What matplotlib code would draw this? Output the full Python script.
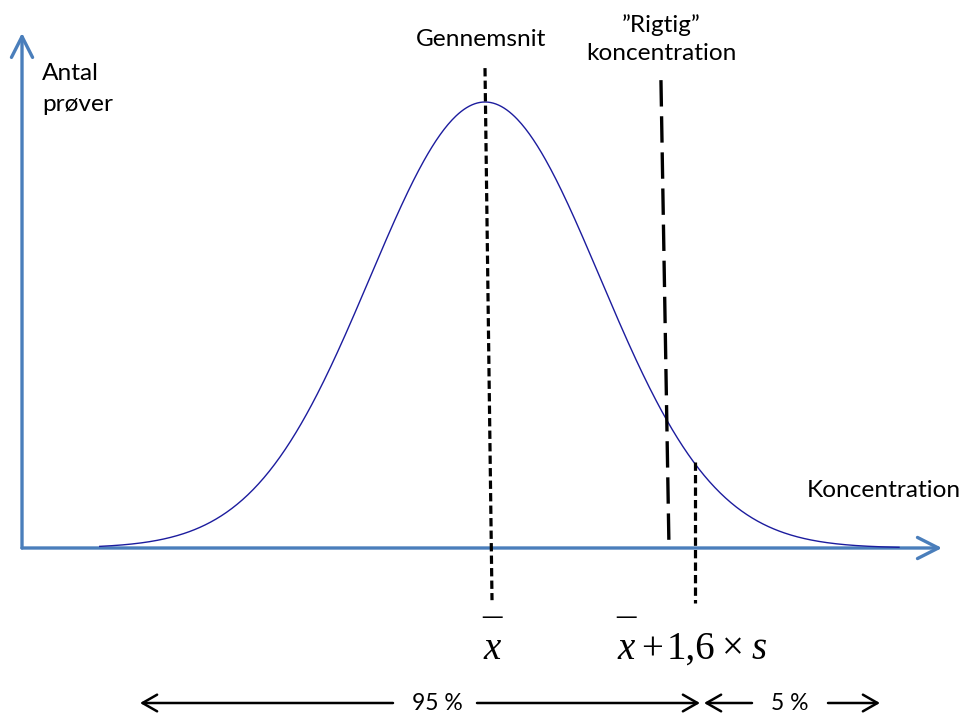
import numpy as np
import matplotlib
matplotlib.use("Agg")
import matplotlib.pyplot as plt

# ---- data (concentration in units of s, count relative to the peak) ----
curve_mean = 0.0
curve_sd = 1.0
curve_peak = 1.0
curve_range = [-3.35, 3.6]
mean_line_x = [0.0, 0.061]
mean_line_y = [1.076, -0.117]
true_line_x = [1.53, 1.60]
true_line_y = [1.049, 0.0]
limit_x = 1.826
limit_y = [0.193, -0.123]
axis_origin = [-4.026, 0.0]
axis_x_end = 3.974
axis_y_end = 1.155
label_mean = "Gennemsnit"
label_true = ["\u201dRigtig\u201d", "koncentration"]
label_y = ["Antal", "pr\u00f8ver"]
label_x = "Koncentration"
pct_labels = ["95 %", "5 %"]

# ---- figure / layout (pixel helper for placing annotations) ----
W, H = 972, 718
X0, SX, Y0, SY = 485.0, 115.0, 548.0, 446.0
def px(x, y):
    return (x - X0) / SX, (Y0 - y) / SY

plt.rcParams['lines.scale_dashes'] = False
fig = plt.figure(figsize=(W / 100, H / 100), dpi=100)
ax = fig.add_axes([0, 0, 1, 1])
ax.set_xlim((0 - X0) / SX, (W - X0) / SX)
ax.set_ylim((Y0 - H) / SY, Y0 / SY)
ax.axis('off')

blue = '#4A7EBB'
navy = '#1C1C9E'
font = 'Lato'

# axes arrows
ax.annotate('', xy=(axis_x_end, axis_origin[1]), xytext=(axis_origin[0], axis_origin[1]),
            arrowprops=dict(arrowstyle='->,head_length=0.75,head_width=0.38', lw=2.4,
                            color=blue, shrinkA=0, shrinkB=0, mutation_scale=20))
ax.annotate('', xy=(axis_origin[0], axis_y_end), xytext=(axis_origin[0], axis_origin[1]),
            arrowprops=dict(arrowstyle='->,head_length=0.75,head_width=0.38', lw=2.4,
                            color=blue, shrinkA=0, shrinkB=0, mutation_scale=20))

# normal curve
xs = np.linspace(curve_range[0], curve_range[1], 600)
ys = curve_peak * np.exp(-0.5 * ((xs - curve_mean) / curve_sd) ** 2)
ax.plot(xs, ys, color=navy, lw=1.0, zorder=3)

# dashed lines
ax.plot(mean_line_x, mean_line_y, color='black', lw=2.3, dashes=(6, 3), zorder=4)
ax.plot(true_line_x, true_line_y, color='black', lw=2.4, dashes=(19, 7), zorder=4)
ax.plot([limit_x, limit_x], limit_y, color='black', lw=2.3, dashes=(6, 3), zorder=4)

# text labels
fs = 17.6
ax.text(*px(481, 46), label_mean, ha='center', va='baseline', fontsize=fs, family=font)
ax.text(*px(661, 32), label_true[0], ha='center', va='baseline', fontsize=fs, family=font)
ax.text(*px(661, 60), label_true[1], ha='center', va='baseline', fontsize=fs, family=font)
ax.text(*px(42, 80), label_y[0], ha='left', va='baseline', fontsize=fs, family=font)
ax.text(*px(42, 111), label_y[1], ha='left', va='baseline', fontsize=fs, family=font)
ax.text(*px(807, 497), label_x, ha='left', va='baseline', fontsize=fs, family=font)

# math labels (bar above x as part of the same text)
serif = 'Liberation Serif'
ms = 28
xbar = '\u2013\n$\\mathit{x}$'
ax.text(*px(492, 659), '\u2013\nx', ha='center', va='baseline', fontsize=ms,
        family=serif, style='italic', linespacing=0.85, ma='center')
ax.text(*px(626, 659), '\u2013\nx', ha='center', va='baseline', fontsize=ms,
        family=serif, style='italic', linespacing=0.85, ma='center')
ax.text(*px(652, 659), '+', ha='center', va='baseline', fontsize=ms, family=serif)
ax.text(*px(691, 659), '1,6', ha='center', va='baseline', fontsize=ms, family=serif)
ax.text(*px(733, 659), '\u00d7', ha='center', va='baseline', fontsize=ms, family=serif)
ax.text(*px(759, 659), 's', ha='center', va='baseline', fontsize=ms, family=serif, style='italic')

# bottom percentage arrows
yb = px(0, 703)[1]
ap = dict(arrowstyle='->,head_length=0.7,head_width=0.4', lw=1.8, color='black',
          shrinkA=0, shrinkB=0, mutation_scale=15)
ax.annotate('', xy=(px(140, 0)[0], yb), xytext=(px(393, 0)[0], yb), arrowprops=ap)
ax.annotate('', xy=(px(700, 0)[0], yb), xytext=(px(477, 0)[0], yb), arrowprops=ap)
ax.annotate('', xy=(px(704, 0)[0], yb), xytext=(px(752, 0)[0], yb), arrowprops=ap)
ax.annotate('', xy=(px(880, 0)[0], yb), xytext=(px(828, 0)[0], yb), arrowprops=ap)
ax.text(*px(437, 710), pct_labels[0], ha='center', va='baseline', fontsize=16.5, family=font)
ax.text(*px(790, 710), pct_labels[1], ha='center', va='baseline', fontsize=16.5, family=font)

fig.savefig('out.png', dpi=100)
